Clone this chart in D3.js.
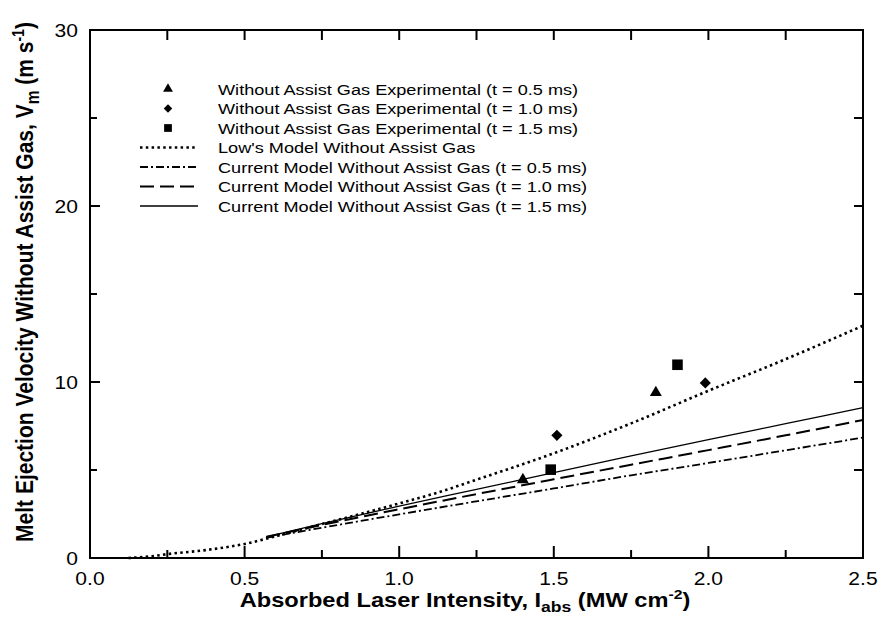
<!DOCTYPE html>
<html><head><meta charset="utf-8">
<script src="https://cdn.jsdelivr.net/npm/d3@7"></script>
<style>body{margin:0;background:#fff}svg{display:block}text{font-family:"Liberation Sans",Arial,sans-serif}</style>
</head><body><svg id="c" width="880" height="617"></svg>
<script>
// ---- data ----
const xTicksMajor = [0, 0.5, 1.0, 1.5, 2.0, 2.5];
const yTicksMajor = [0, 10, 20, 30];
const expT05 = [[1.40, 4.45], [1.83, 9.4]];
const expT10 = [[1.51, 6.97], [1.99, 9.95]];
const expT15 = [[1.49, 5.02], [1.90, 10.98]];
const lowModel = [[0.124,0],[0.2,0.1],[0.25,0.22],[0.375,0.45],[0.5,0.8],[0.625,1.35],[0.75,1.93],[0.875,2.5],[1.0,3.1],[1.125,3.72],[1.25,4.45],[1.5,5.95],[1.75,7.65],[2.0,9.5],[2.25,11.3],[2.5,13.2]];
const model05 = [[0.57,1.15],[0.75,1.72],[1.0,2.48],[1.25,3.22],[1.5,3.95],[1.75,4.7],[2.0,5.4],[2.25,6.12],[2.5,6.84]];
const model10 = [[0.57,1.2],[0.75,1.88],[1.0,2.77],[1.25,3.63],[1.5,4.47],[1.75,5.3],[2.0,6.13],[2.25,6.97],[2.5,7.84]];
const model15 = [[0.57,1.2],[0.75,1.95],[1.0,2.95],[1.25,3.9],[1.5,4.85],[1.75,5.8],[2.0,6.72],[2.25,7.63],[2.5,8.54]];
const legendLabels = [
  "Without Assist Gas Experimental (t = 0.5 ms)",
  "Without Assist Gas Experimental (t = 1.0 ms)",
  "Without Assist Gas Experimental (t = 1.5 ms)",
  "Low's Model Without Assist Gas",
  "Current Model Without Assist Gas (t = 0.5 ms)",
  "Current Model Without Assist Gas (t = 1.0 ms)",
  "Current Model Without Assist Gas (t = 1.5 ms)"
];

const SX = 1.17; // horizontal glyph stretch seen in the reference
const svg = d3.select("#c");
const L = 90, R = 863, T = 30, B = 558;
const x = d3.scaleLinear().domain([0, 2.5]).range([L, R]);
const y = d3.scaleLinear().domain([0, 30]).range([B, T]);

const styles = {
  dot: {w: 2.6, dash: "2.5,3.3"},
  dashdot: {w: 1.8, dash: "8,3,2,3"},
  dash: {w: 2.0, dash: "14,6"},
  solid: {w: 1.3, dash: null}
};
const line = d3.line().x(d => x(d[0])).y(d => y(d[1])).curve(d3.curveMonotoneX);
function drawLine(data, st) {
  const p = svg.append("path").attr("d", line(data)).attr("fill", "none")
    .attr("stroke", "#000").attr("stroke-width", st.w);
  if (st.dash) p.attr("stroke-dasharray", st.dash);
}
drawLine(lowModel, styles.dot);
drawLine(model05, styles.dashdot);
drawLine(model10, styles.dash);
drawLine(model15, styles.solid);

const symPath = {
  tri: s => d3.symbol().type(d3.symbolTriangle).size(s)(),
  dia: s => d3.symbol().type(d3.symbolSquare).size(s)(),
  sq: s => d3.symbol().type(d3.symbolSquare).size(s)()
};
const rot = {tri: 0, dia: 45, sq: 0};
function drawPts(data, s, size) {
  svg.selectAll(null).data(data).enter().append("path")
    .attr("d", symPath[s](size))
    .attr("transform", d => `translate(${x(d[0])},${y(d[1])}) rotate(${rot[s]})`)
    .attr("fill", "#000");
}
drawPts(expT05, "tri", 62);
drawPts(expT10, "dia", 62);
drawPts(expT15, "sq", 112);

// frame
svg.append("rect").attr("x", L).attr("y", T).attr("width", R - L).attr("height", B - T)
  .attr("fill", "none").attr("stroke", "#000").attr("stroke-width", 2);

// ticks
const xMinor = d3.range(0.25, 2.5, 0.5);
const yMinor = [5, 15, 25];
const tg = svg.append("g").attr("stroke", "#000").attr("stroke-width", 2);
xTicksMajor.slice(1, -1).forEach(v => {
  tg.append("line").attr("x1", x(v)).attr("x2", x(v)).attr("y1", B).attr("y2", B - 12);
  tg.append("line").attr("x1", x(v)).attr("x2", x(v)).attr("y1", T).attr("y2", T + 10);
});
xMinor.forEach(v => {
  tg.append("line").attr("x1", x(v)).attr("x2", x(v)).attr("y1", B).attr("y2", B - 8);
  tg.append("line").attr("x1", x(v)).attr("x2", x(v)).attr("y1", T).attr("y2", T + 10);
});
yTicksMajor.slice(1, -1).forEach(v => {
  tg.append("line").attr("x1", L).attr("x2", L + 10).attr("y1", y(v)).attr("y2", y(v));
  tg.append("line").attr("x1", R).attr("x2", R - 9).attr("y1", y(v)).attr("y2", y(v));
});
yMinor.forEach(v => {
  tg.append("line").attr("x1", L).attr("x2", L + 7).attr("y1", y(v)).attr("y2", y(v));
  tg.append("line").attr("x1", R).attr("x2", R - 9).attr("y1", y(v)).attr("y2", y(v));
});

// tick labels
svg.selectAll(null).data(xTicksMajor).enter().append("text")
  .attr("transform", d => `translate(${x(d)},585) scale(${SX},1)`).attr("text-anchor", "middle")
  .attr("font-size", 18).text(d => d.toFixed(1));
svg.selectAll(null).data(yTicksMajor).enter().append("text")
  .attr("transform", d => `translate(78,${y(d) + 6.5}) scale(${SX},1)`).attr("text-anchor", "end")
  .attr("font-size", 18).text(d => d);

// axis titles
const xt = svg.append("text").attr("transform", `translate(465,607) scale(${SX},1)`).attr("text-anchor", "middle")
  .attr("font-size", 20.2).attr("font-weight", "bold");
xt.append("tspan").text("Absorbed Laser Intensity, I");
xt.append("tspan").attr("font-size", 15).attr("dy", 5).text("abs");
xt.append("tspan").attr("dy", -5).text(" (MW cm");
xt.append("tspan").attr("font-size", 13.5).attr("dy", -8).text("-2");
xt.append("tspan").attr("dy", 8).text(")");

const yt = svg.append("text").attr("transform", `translate(33,282) scale(${SX},1) rotate(-90)`)
  .attr("text-anchor", "middle").attr("font-size", 21).attr("font-weight", "bold");
yt.append("tspan").text("Melt Ejection Velocity Without Assist Gas, V");
yt.append("tspan").attr("font-size", 15.5).attr("dy", 5).text("m");
yt.append("tspan").attr("dy", -5).text(" (m s");
yt.append("tspan").attr("font-size", 14).attr("dy", -8).text("-1");
yt.append("tspan").attr("dy", 8).text(")");

// legend
const lg = svg.append("g");
const rowY = i => 89 + i * 19.5;
const legSym = [["tri", 42], ["dia", 36], ["sq", 60]];
legSym.forEach((s, i) => {
  lg.append("path").attr("d", symPath[s[0]](s[1]))
    .attr("transform", `translate(168,${rowY(i)}) rotate(${rot[s[0]]})`).attr("fill", "#000");
});
[styles.dot, styles.dashdot, styles.dash, styles.solid].forEach((st, j) => {
  const i = j + 3;
  const p = lg.append("line").attr("x1", 140).attr("x2", 198).attr("y1", rowY(i)).attr("y2", rowY(i))
    .attr("stroke", "#000").attr("stroke-width", st.w);
  if (st.dash) p.attr("stroke-dasharray", st.dash);
});
lg.selectAll(null).data(legendLabels).enter().append("text")
  .attr("transform", (d, i) => `translate(218,${rowY(i) + 5.5}) scale(${SX},1)`)
  .attr("font-size", 15.5).text(d => d);
</script></body></html>
